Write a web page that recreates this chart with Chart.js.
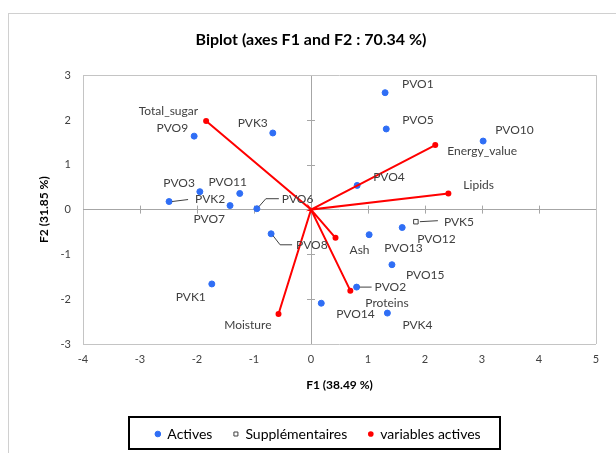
<!DOCTYPE html>
<html>
<head>
<meta charset="utf-8">
<script src="https://cdn.jsdelivr.net/npm/chart.js@4.4.1/dist/chart.umd.min.js"></script>
<style>
  html, body { margin: 0; padding: 0; background: #ffffff; }
  #wrap { position: relative; width: 616px; height: 453px; }
</style>
</head>
<body>
<div id="wrap"><canvas id="c" width="616" height="453"></canvas></div>
<script>
// ---- Data ----
const obsNames = ['PVO1','PVO5','PVO10','PVO4','PVK3','PVO9','PVO3','PVO11','PVK2','PVO7','PVO6','PVO8','PVK1','PVO12','PVO13','PVO15','PVO2','PVO14','PVK4'];
const obsF1 = [1.30, 1.32, 3.02, 0.81, -0.67, -2.05, -1.95, -1.25, -2.49, -1.42, -0.95, -0.70, -1.74, 1.60, 1.02, 1.42, 0.80, 0.18, 1.34];
const obsF2 = [2.61, 1.80, 1.53, 0.54, 1.71, 1.64, 0.40, 0.36, 0.18, 0.09, 0.02, -0.54, -1.66, -0.40, -0.56, -1.23, -1.73, -2.09, -2.31];

const supNames = ['PVK5'];
const supF1 = [1.84];
const supF2 = [-0.27];

const varNames = ['Total_sugar','Energy_value','Lipids','Ash','Proteins','Moisture'];
const varF1 = [-1.84, 2.18, 2.41, 0.43, 0.69, -0.57];
const varF2 = [1.98, 1.44, 0.36, -0.63, -1.81, -2.33];

const xTicks = [-4, -3, -2, -1, 0, 1, 2, 3, 4, 5];
const yTicks = [-3, -2, -1, 0, 1, 2, 3];

const titleText = 'Biplot (axes F1 and F2 : 70.34 %)';
const xTitle = 'F1 (38.49 %)';
const yTitle = 'F2 (31.85 %)';
const legendNames = ['Actives', 'Supplémentaires', 'variables actives'];

// ---- Label placement (layout only: pixel offsets from each mark) ----
const labelLayout = {
  PVO1:  {dx: 17, dy: -9, align: 'left'},
  PVO5:  {dx: 16, dy: -9, align: 'left'},
  PVO10: {dx: 12, dy: -11, align: 'left'},
  PVO4:  {dx: 16, dy: -8, align: 'left'},
  PVK3:  {dx: -5, dy: -10, align: 'right'},
  PVO9:  {dx: -6, dy: -8, align: 'right'},
  PVO3:  {dx: -5, dy: -9, align: 'right'},
  PVO11: {dx: -12, dy: -11, align: 'center'},
  PVK2:  {dx: 26, dy: -2, align: 'left', leader: [[3,0],[19,-2]]},
  PVO7:  {dx: -5, dy: 14, align: 'right'},
  PVO6:  {dx: 25, dy: -10, align: 'left', leader: [[2,-2],[9,-10],[22,-10]]},
  PVO8:  {dx: 25, dy: 11, align: 'left', leader: [[2,2],[9,11],[21,11]]},
  PVK1:  {dx: -6, dy: 13, align: 'right'},
  PVO12: {dx: 15, dy: 12, align: 'left'},
  PVO13: {dx: 15, dy: 13, align: 'left'},
  PVO15: {dx: 14, dy: 10, align: 'left'},
  PVO2:  {dx: 18, dy: 0, align: 'left', leader: [[3,0],[15,0]]},
  PVO14: {dx: 15, dy: 11, align: 'left'},
  PVK4:  {dx: 15, dy: 12, align: 'left'},
  PVK5:  {dx: 28, dy: 0, align: 'left', leader: [[4,0],[22,-1]]},
  Total_sugar:  {dx: -8, dy: -10, align: 'right'},
  Energy_value: {dx: 12, dy: 6, align: 'left'},
  Lipids:       {dx: 15, dy: -8, align: 'left'},
  Ash:          {dx: 14, dy: 12, align: 'left'},
  Proteins:     {dx: 15, dy: 12, align: 'left'},
  Moisture:     {dx: -7, dy: 11, align: 'right'}
};

const FONT = 'Lato, "Open Sans", sans-serif';
const BLUE = '#2f6ef5';
const RED = '#ff0000';

const obsData = obsF1.map((x, i) => ({x: x, y: obsF2[i], name: obsNames[i]}));
const supData = supF1.map((x, i) => ({x: x, y: supF2[i], name: supNames[i]}));
const varData = [];
varF1.forEach((x, i) => {
  varData.push({x: 0, y: 0, name: null});
  varData.push({x: x, y: varF2[i], name: varNames[i]});
});

const edgeGrid = (vals, min, max) => (ctx) => {
  const v = ctx.tick ? ctx.tick.value : null;
  if (v === 0) return '#a6a6a6';
  if (v === min || v === max) return '#c4c4c4';
  return 'rgba(0,0,0,0)';
};

const decorPlugin = {
  id: 'decor',
  afterLayout(chart) {
    // centre title and legend on the page as in the reference
    if (chart.titleBlock) { chart.titleBlock.left += 13; chart.titleBlock.right += 13; }
    if (chart.legend) { chart.legend.left += 20; chart.legend.right += 20; }
  },
  beforeDraw(chart) {
    const ctx = chart.ctx;
    ctx.save();
    ctx.strokeStyle = '#d0d0d0';
    ctx.lineWidth = 1;
    ctx.strokeRect(8.5, 13.5, 640, 480);
    ctx.restore();
  },
  beforeDatasetsDraw(chart) {
    const ctx = chart.ctx;
    const xs = chart.scales.x, ys = chart.scales.y;
    const x0 = xs.getPixelForValue(0), y0 = ys.getPixelForValue(0);
    ctx.save();
    ctx.strokeStyle = '#a6a6a6';
    ctx.lineWidth = 1;
    ctx.beginPath();
    xTicks.forEach(v => {
      if (v === 0 || v === xs.min || v === xs.max) return;
      const px = Math.round(xs.getPixelForValue(v)) + 0.5;
      ctx.moveTo(px, y0 - 4); ctx.lineTo(px, y0 + 4);
    });
    yTicks.forEach(v => {
      if (v === 0 || v === ys.min || v === ys.max) return;
      const py = Math.round(ys.getPixelForValue(v)) + 0.5;
      ctx.moveTo(x0 - 4, py); ctx.lineTo(x0 + 4, py);
    });
    ctx.stroke();
    ctx.restore();
  },
  afterDatasetsDraw(chart) {
    const ctx = chart.ctx;
    ctx.save();
    ctx.font = '12px ' + FONT;
    ctx.fillStyle = '#404040';
    ctx.textBaseline = 'middle';
    chart.data.datasets.forEach((ds, di) => {
      const meta = chart.getDatasetMeta(di);
      ds.data.forEach((d, i) => {
        if (!d.name) return;
        const L = labelLayout[d.name];
        if (!L) return;
        const el = meta.data[i];
        const px = el.x, py = el.y;
        if (L.leader) {
          ctx.strokeStyle = '#404040';
          ctx.lineWidth = 1;
          ctx.beginPath();
          L.leader.forEach((p, k) => {
            if (k === 0) ctx.moveTo(px + p[0], py + p[1]);
            else ctx.lineTo(px + p[0], py + p[1]);
          });
          ctx.stroke();
        }
        ctx.textAlign = L.align;
        ctx.fillText(d.name, px + L.dx, py + L.dy);
      });
    });
    ctx.restore();
  },
  afterDraw(chart) {
    const lg = chart.legend;
    if (!lg || !lg.legendHitBoxes || !lg.legendHitBoxes.length) return;
    const hb = lg.legendHitBoxes;
    let minX = Infinity, maxX = -Infinity, minY = Infinity, maxY = -Infinity;
    hb.forEach(b => {
      minX = Math.min(minX, b.left); maxX = Math.max(maxX, b.left + b.width);
      minY = Math.min(minY, b.top); maxY = Math.max(maxY, b.top + b.height);
    });
    const cy = (minY + maxY) / 2 - 1;
    const ctx = chart.ctx;
    ctx.save();
    ctx.strokeStyle = '#000000';
    ctx.lineWidth = 2;
    ctx.strokeRect(Math.round(minX - 26), Math.round(cy - 16), Math.round(maxX - minX + 46), 32);
    ctx.restore();
  }
};

new Chart(document.getElementById('c'), {
  type: 'scatter',
  data: {
    datasets: [
      {
        label: legendNames[0],
        data: obsData,
        backgroundColor: BLUE,
        borderColor: BLUE,
        pointRadius: 3,
        pointHoverRadius: 3,
        pointStyle: 'circle',
        order: 2
      },
      {
        label: legendNames[1],
        data: supData,
        backgroundColor: '#ffffff',
        borderColor: '#404040',
        borderWidth: 1,
        pointRadius: 3.2,
        pointStyle: 'rect',
        order: 3
      },
      {
        label: legendNames[2],
        data: varData,
        showLine: true,
        borderColor: RED,
        backgroundColor: RED,
        borderWidth: 2,
        pointBorderWidth: 0,
        pointRadius: (ctx) => (ctx.dataIndex % 2 === 1 ? 3 : 0),
        pointStyle: 'circle',
        order: 1
      }
    ]
  },
  options: {
    responsive: false,
    animation: false,
    devicePixelRatio: 1,
    layout: { padding: { left: 0, right: 20, top: 0, bottom: 2 } },
    plugins: {
      tooltip: { enabled: false },
      title: {
        display: true,
        text: titleText,
        color: '#000000',
        font: { family: FONT, size: 16, weight: 'bold' },
        padding: { top: 30, bottom: 26 }
      },
      legend: {
        position: 'bottom',
        labels: {
          usePointStyle: true,
          boxWidth: 5,
          boxHeight: 4,
          padding: 21,
          color: '#000000',
          font: { family: FONT, size: 14 },
          sort: (a, b) => a.datasetIndex - b.datasetIndex
        }
      }
    },
    scales: {
      x: {
        type: 'linear',
        min: -4, max: 5,
        afterBuildTicks: (s) => { s.ticks = xTicks.map(v => ({value: v})); },
        afterFit: (s) => { s.height = 62; },
        grid: { drawTicks: false, color: edgeGrid(xTicks, -4, 5), lineWidth: 1 },
        border: { display: false },
        ticks: { color: '#404040', font: { family: FONT, size: 11 }, padding: 9 },
        title: {
          display: true, text: xTitle, color: '#000000',
          font: { family: FONT, size: 12, weight: 'bold' },
          padding: { top: 8, bottom: 14 }
        }
      },
      y: {
        type: 'linear',
        min: -3, max: 3,
        afterBuildTicks: (s) => { s.ticks = yTicks.map(v => ({value: v})); },
        afterFit: (s) => { s.width = 83; },
        grid: { drawTicks: false, color: edgeGrid(yTicks, -3, 3), lineWidth: 1 },
        border: { display: false },
        ticks: { color: '#404040', font: { family: FONT, size: 11 }, padding: 12 },
        title: {
          display: true, text: yTitle, color: '#000000',
          font: { family: FONT, size: 12, weight: 'bold' },
          padding: { top: 37 }
        }
      }
    }
  },
  plugins: [decorPlugin]
});
</script>
</body>
</html>
